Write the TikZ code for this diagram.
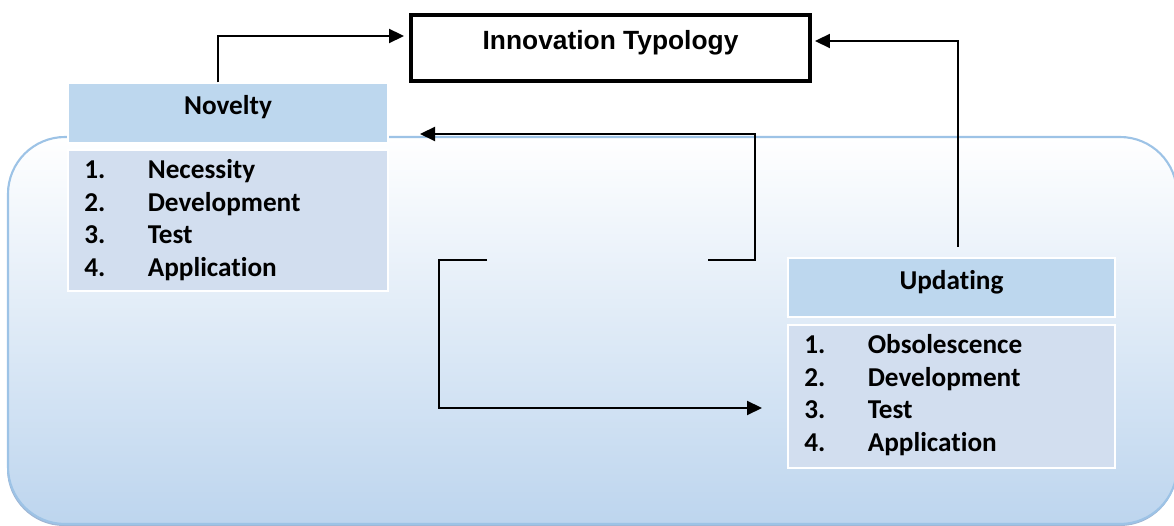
\documentclass[tikz,border=0pt]{standalone}
\usepackage{fontspec}
\setmainfont{Carlito}[Ligatures=NoCommon]
\newfontfamily\arialfont{Liberation Sans}
\usetikzlibrary{arrows.meta}

\definecolor{headblue}{RGB}{189,215,238}
\definecolor{listblue}{RGB}{210,222,239}
\definecolor{bgline}{RGB}{157,195,230}
\definecolor{bgbottom}{RGB}{189,213,238}
\definecolor{bgshadow}{RGB}{160,182,212}

\tikzset{
    headbox/.style={rectangle, fill=headblue, draw=white, line width=1pt, inner sep=0pt,
        text height=0.63cm, text depth=0.56cm, font=\bfseries\fontsize{15.5}{18.5}\selectfont},
    listbox/.style={rectangle, fill=listblue, draw=white, line width=1pt, inner sep=0pt},
    item/.style={anchor=base west, inner sep=0pt, font=\bfseries\fontsize{15.5}{18.5}\selectfont},
    conn/.style={line width=1.2pt, -{Triangle[length=0.3cm, width=0.28cm]}},
}

\begin{document}
\begin{tikzpicture}[x=0.02cm, y=-0.02cm]
    \useasboundingbox (0,0) rectangle (1174,526);

    % Фон
    \fill[bgshadow, rounded corners=1.14cm] (7,139) rectangle (1177,526);
    \draw[top color=white, bottom color=bgbottom, draw=bgline, line width=1.2pt, rounded corners=1.14cm]
        (8,137) rectangle (1177,524);

    % Заголовок
    \node[draw, line width=2.3pt, minimum width=7.98cm, inner sep=0pt, text height=0.7cm, text depth=0.62cm,
        font=\arialfont\bfseries\fontsize{15}{18}\selectfont] (typo) at (610.5,48) {Innovation Typology};

    % Блоки
    \node[headbox, minimum width=6.4cm]  (novhead) at (228,113)   {Novelty};
    \node[listbox, minimum width=6.4cm, minimum height=2.82cm]  (novlist) at (228,220.5) {};
    \node[headbox, minimum width=6.54cm] (updhead) at (951.5,287.5) {Updating};
    \node[listbox, minimum width=6.54cm, minimum height=2.86cm] (updlist) at (951.5,396.5) {};

    % Пункты
    \foreach \t [count=\i] in {Necessity,Development,Test,Application}
        \node[item] (nov\i) at (84,146.5+32.5*\i) {\makebox[1.27cm][l]{\i.}\t};
    \foreach \t [count=\i] in {Obsolescence,Development,Test,Application}
        \node[item] (upd\i) at (804,321.5+32.5*\i) {\makebox[1.27cm][l]{\i.}\t};

    % Концы стрелок
    \coordinate (loopA) at (708,260);
    \coordinate (loopB) at (487,260);
    \coordinate (novin) at (420,134);
    \coordinate (updin) at (762,408);

    % Стрелки
    \draw[conn, shorten >=0.1cm] ([xshift=-0.2cm]novhead.north) |- ([yshift=0.24cm]typo.west);
    \draw[conn, shorten >=0.06cm] ([xshift=0.13cm, yshift=0.2cm]updhead.north) |- ([yshift=0.14cm]typo.east);
    \draw[conn] (loopA) -- ++(47,0) |- (novin);
    \draw[conn] (loopB) -- ++(-48,0) |- (updin);
\end{tikzpicture}
\end{document}
